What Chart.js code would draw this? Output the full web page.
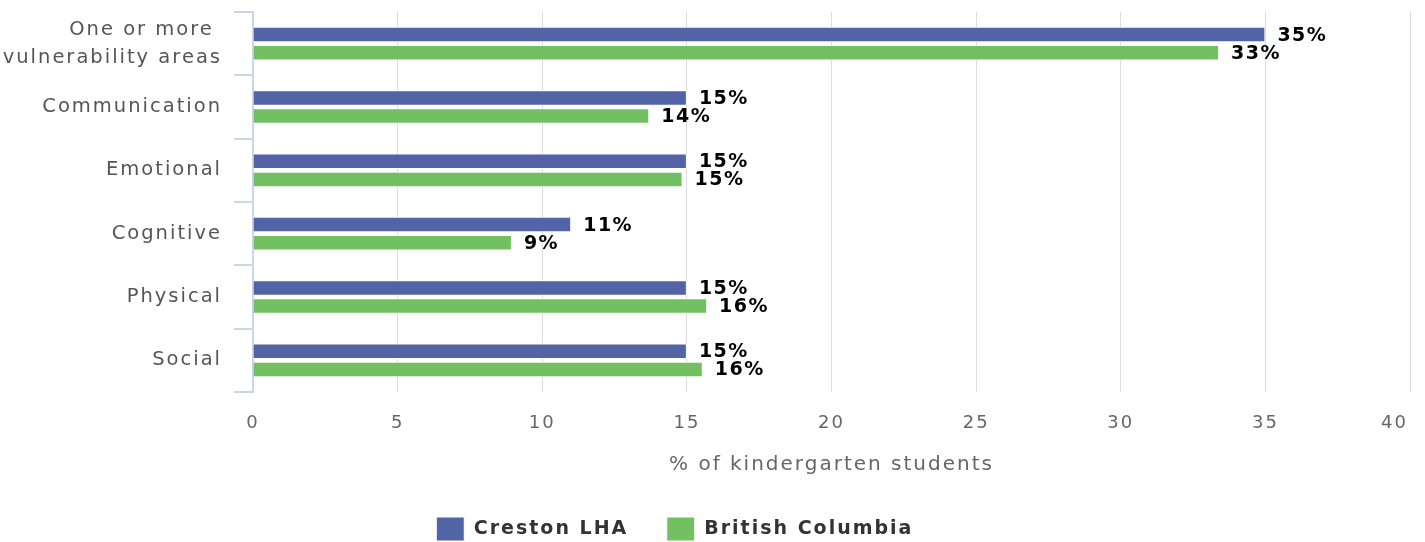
<!DOCTYPE html>
<html>
<head>
<meta charset="utf-8">
<script src="https://cdn.jsdelivr.net/npm/chart.js@4.4.1/dist/chart.umd.min.js"></script>
<style>
  html, body { margin: 0; padding: 0; background: #fff; }
  #wrap { width: 1425px; height: 542px; }
</style>
</head>
<body>
<div id="wrap"><canvas id="chart"></canvas></div>
<script>
// Categories and values
const categories = [
    ['One or more ', 'vulnerability areas'],
    'Communication',
    'Emotional',
    'Cognitive',
    'Physical',
    'Social'
];
const crestonValues = [35, 15, 15, 11, 15, 15];
const bcValues = [33.4, 13.7, 14.85, 8.95, 15.7, 15.55];
const crestonLabels = ['35%', '15%', '15%', '11%', '15%', '15%'];
const bcLabels = ['33%', '14%', '15%', '9%', '16%', '16%'];
const xTicks = [0, 5, 10, 15, 20, 25, 30, 35, 40];

const FONT = '"DejaVu Sans", Verdana, sans-serif';

// Chart.js has no letter-spacing option, so put it on the context
const spacingPlugin = {
    id: 'spacing',
    beforeUpdate(chart) { chart.ctx.letterSpacing = '2px'; },
    beforeLayout(chart) { chart.ctx.letterSpacing = '2px'; },
    beforeDraw(chart) { chart.ctx.letterSpacing = '2px'; }
};

// percent labels at the end of each bar
const barLabelPlugin = {
    id: 'barLabels',
    afterDatasetsDraw(chart) {
        const ctx = chart.ctx;
        const labelSets = [crestonLabels, bcLabels];
        ctx.save();
        ctx.letterSpacing = '1.5px';
        ctx.font = 'bold 19px ' + FONT;
        ctx.fillStyle = '#000';
        ctx.textAlign = 'left';
        ctx.textBaseline = 'middle';
        chart.data.datasets.forEach((ds, i) => {
            chart.getDatasetMeta(i).data.forEach((bar, j) => {
                ctx.fillText(labelSets[i][j], bar.x + 12, bar.y + 1);
            });
        });
        ctx.restore();
    }
};

const chart = new Chart(document.getElementById('chart'), {
    type: 'bar',
    data: {
        labels: categories,
        datasets: [
            {
                label: 'Creston LHA',
                data: crestonValues,
                backgroundColor: '#5263a6',
                borderColor: '#ffffff',
                borderWidth: 1,
                barPercentage: 0.85,
                categoryPercentage: 0.575
            },
            {
                label: 'British Columbia',
                data: bcValues,
                backgroundColor: '#72c062',
                borderColor: '#ffffff',
                borderWidth: 1,
                barPercentage: 0.85,
                categoryPercentage: 0.575
            }
        ]
    },
    options: {
        indexAxis: 'y',
        responsive: true,
        maintainAspectRatio: false,
        animation: false,
        layout: { padding: { top: 12, right: 15, left: 0, bottom: -9 } },
        plugins: {
            legend: {
                position: 'bottom',
                labels: {
                    boxWidth: 28,
                    boxHeight: 24,
                    padding: 4,
                    color: '#333',
                    font: { family: FONT, size: 19, weight: 'bold' },
                    generateLabels(chart) {
                        const items = Chart.defaults.plugins.legend.labels.generateLabels(chart);
                        // wider gap between entries, legend sits a bit left of centre
                        items[0].text += '    ';
                        items[1].text += '       ';
                        return items;
                    }
                }
            },
            tooltip: { enabled: false }
        },
        scales: {
            x: {
                min: 0,
                max: 40,
                afterBuildTicks(scale) {
                    scale.ticks = xTicks.map(v => ({ value: v }));
                },
                afterFit(scale) {
                    scale.height = 121;
                    scale.paddingLeft = 0;
                    scale.paddingRight = 0;
                },
                grid: { color: '#dcdcdc', drawTicks: false },
                border: { display: false },
                ticks: {
                    color: '#666',
                    padding: 21,
                    font: { family: FONT, size: 18 },
                    // last label is pulled inside the plot edge
                    callback: v => v === 40 ? '40    ' : String(v)
                },
                title: {
                    display: true,
                    text: '% of kindergarten students',
                    color: '#666',
                    padding: { top: 10, bottom: 36 },
                    font: { family: FONT, size: 20 }
                }
            },
            y: {
                afterFit(scale) {
                    scale.width = 253;
                    scale.paddingTop = 0;
                    scale.paddingBottom = 0;
                },
                grid: {
                    drawOnChartArea: false,
                    drawTicks: true,
                    tickLength: 19,
                    tickColor: '#ccd6eb',
                    lineWidth: 2
                },
                border: { color: '#ccd6eb', width: 2 },
                ticks: {
                    color: '#555',
                    padding: 12,
                    font: { family: FONT, size: 19.5, lineHeight: 1.45 }
                }
            }
        }
    },
    plugins: [spacingPlugin, barLabelPlugin]
});
</script>
</body>
</html>
